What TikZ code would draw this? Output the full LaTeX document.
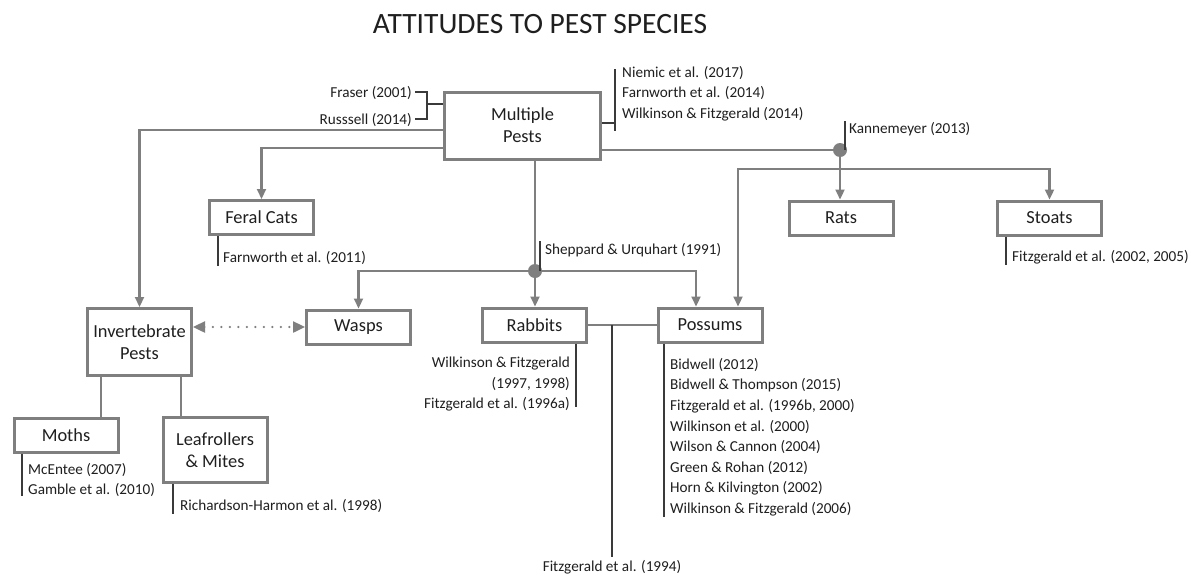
\documentclass[tikz,border=0pt]{standalone}
\usepackage{fontspec}
\setmainfont{Carlito}
\usetikzlibrary{arrows.meta,calc}
\definecolor{lg}{HTML}{7F7F7F}
\definecolor{tx}{HTML}{1F1F1F}
\definecolor{rl}{HTML}{3A3A3A}
\begin{document}
\begin{tikzpicture}[x=1pt,y=-1pt,
  box/.style={draw=lg, line width=3pt, fill=white, text=tx, align=center, inner sep=0pt,
     font=\fontsize{18.4}{22}\selectfont, minimum width=104pt, minimum height=34pt},
  conn/.style={draw=lg, line width=2.2pt},
  arr/.style={conn, -{Triangle[length=10pt,width=9pt]}},
  dotarr/.style={draw=lg, line width=2.4pt, line cap=round, dash pattern=on 0pt off 8.5pt,
     {Triangle[length=12pt,width=11pt]}-{Triangle[length=12pt,width=11pt]}},
  refl/.style={draw=rl, line width=1.3pt},
  reft/.style={text=tx, inner sep=0pt, font=\fontsize{15.2}{20.6}\selectfont},
  dotm/.style={fill=lg}
]
\useasboundingbox[fill=white] (0,0) rectangle (1193,581);

% title
\node[text=tx, font=\fontsize{29.5}{34}\selectfont, inner sep=0pt] (title) at (540,24) {ATTITUDES TO PEST SPECIES};

% boxes
\node[box, minimum width=156pt, minimum height=67pt] (mp) at (522.5,125.5) {Multiple\\Pests};
\node[box] (fc) at (261.5,217.5) {Feral Cats};
\node[box] (rats) at (841,218) {Rats};
\node[box] (stoats) at (1049.5,218) {Stoats};
\node[box, minimum height=67pt] (inv) at (139.5,342) {Invertebrate\\Pests};
\node[box] (wasps) at (358.5,327) {Wasps};
\node[box] (rabbits) at (534.5,325) {Rabbits};
\node[box] (possums) at (710,325) {Possums};
\node[box] (moths) at (66,435) {Moths};
\node[box, minimum height=65pt] (leaf) at (215,450) {Leafrollers\\\& Mites};

% helper coordinates
\coordinate (kd) at (840,150);
\coordinate (kl) at (738,169);
\coordinate (sd) at (535,271);
\coordinate (mx) at (101,0);
\coordinate (lx) at (181,0);
\coordinate (rp) at (612,325);

% connectors from Multiple Pests
\draw[arr] ($(mp.west)+(0,4.5)$) -| (inv.north);
\draw[arr] ($(mp.west)+(0,22.5)$) -| (fc.north);
\draw[conn] ($(mp.east)+(0,24.5)$) -- (kd);
\draw[arr] (kd) -- (kd |- rats.north);
\draw[arr] (kd |- kl) -| (stoats.north);
\draw[arr] (kd |- kl) -- (kl) -- ($(possums.north)+(28,0)$);
\fill[dotm] (kd) circle (7pt);

\draw[conn] (mp.south -| sd) -- (sd);
\draw[arr] (sd) -| (wasps.north);
\draw[arr] (sd) -- (sd |- rabbits.north);
\draw[arr] (sd) -| ($(possums.north)+(-14,0)$);
\fill[dotm] (sd) circle (7pt);

% invertebrates
\draw[dotarr] (inv.east |- wasps.west) -- (wasps.west);
\draw[conn] (inv.south -| mx) -- (moths.north -| mx);
\draw[conn] (inv.south -| lx) -- (leaf.north -| lx);

% rabbits - possums
\draw[conn] (rabbits.east) -- (possums.west);
\node[reft, anchor=north] (f94) at (612,560) {Fitzgerald et al. (1994)};
\draw[refl] (rp) -- ($(f94.north)+(0,-3)$);

% references: Multiple pests left
\node[reft, anchor=east] (fraser) at (412,93) {Fraser (2001)};
\node[reft, anchor=east] (russ) at (412,120) {Russsell (2014)};
\draw[refl] ($(fraser.east)+(3,-1)$) -| (427,119) -- ($(russ.east)+(3,-1)$);
\draw[refl] (427,104) -- (mp.west |- 0,104);

% references: Multiple pests right
\node[reft, anchor=north west, align=left] (mpr) at (622,66) {Niemic et al. (2017)\\Farnworth et al. (2014)\\Wilkinson \& Fitzgerald (2014)};
\draw[refl] (615,69) -- (615,131);
\draw[refl] (mp.east |- 0,123) -- (615,123);

% Kannemeyer
\node[reft, anchor=west] (kan) at (849,129) {Kannemeyer (2013)};
\draw[refl] ($(kd)+(5,0)$) -- (845,121);

% Sheppard
\node[reft, anchor=west] (shep) at (545,250) {Sheppard \& Urquhart (1991)};
\draw[refl] ($(sd)+(5,0)$) -- (540,241);

% Feral cats
\node[reft, anchor=west] (fcr) at (223,258) {Farnworth et al. (2011)};
\draw[refl] (fc.south -| 218,0) -- (218,266);

% Stoats
\node[reft, anchor=west] (str) at (1012,257) {Fitzgerald et al. (2002, 2005)};
\draw[refl] (stoats.south -| 1006,0) -- (1006,265);

% Rabbits
\node[reft, anchor=north east, align=right] (rbr) at (570,357) {Wilkinson \& Fitzgerald\\(1997, 1998)\\Fitzgerald et al. (1996a)};
\draw[refl] (rabbits.south -| 576,0) -- (576,407);

% Possums
\node[reft, anchor=north west, align=left] (psr) at (670,358) {Bidwell (2012)\\Bidwell \& Thompson (2015)\\Fitzgerald et al. (1996b, 2000)\\Wilkinson et al. (2000)\\Wilson \& Cannon (2004)\\Green \& Rohan (2012)\\Horn \& Kilvington (2002)\\Wilkinson \& Fitzgerald (2006)};
\draw[refl] (possums.south -| 664,0) -- (664,517);

% Moths
\node[reft, anchor=north west, align=left] (mtr) at (28,463) {McEntee (2007)\\Gamble et al. (2010)};
\draw[refl] (moths.south -| 22,0) -- (22,496);

% Leafrollers
\node[reft, anchor=west] (lfr) at (180,506) {Richardson-Harmon et al. (1998)};
\draw[refl] (leaf.south -| 173,0) -- (173,514);
\end{tikzpicture}
\end{document}
